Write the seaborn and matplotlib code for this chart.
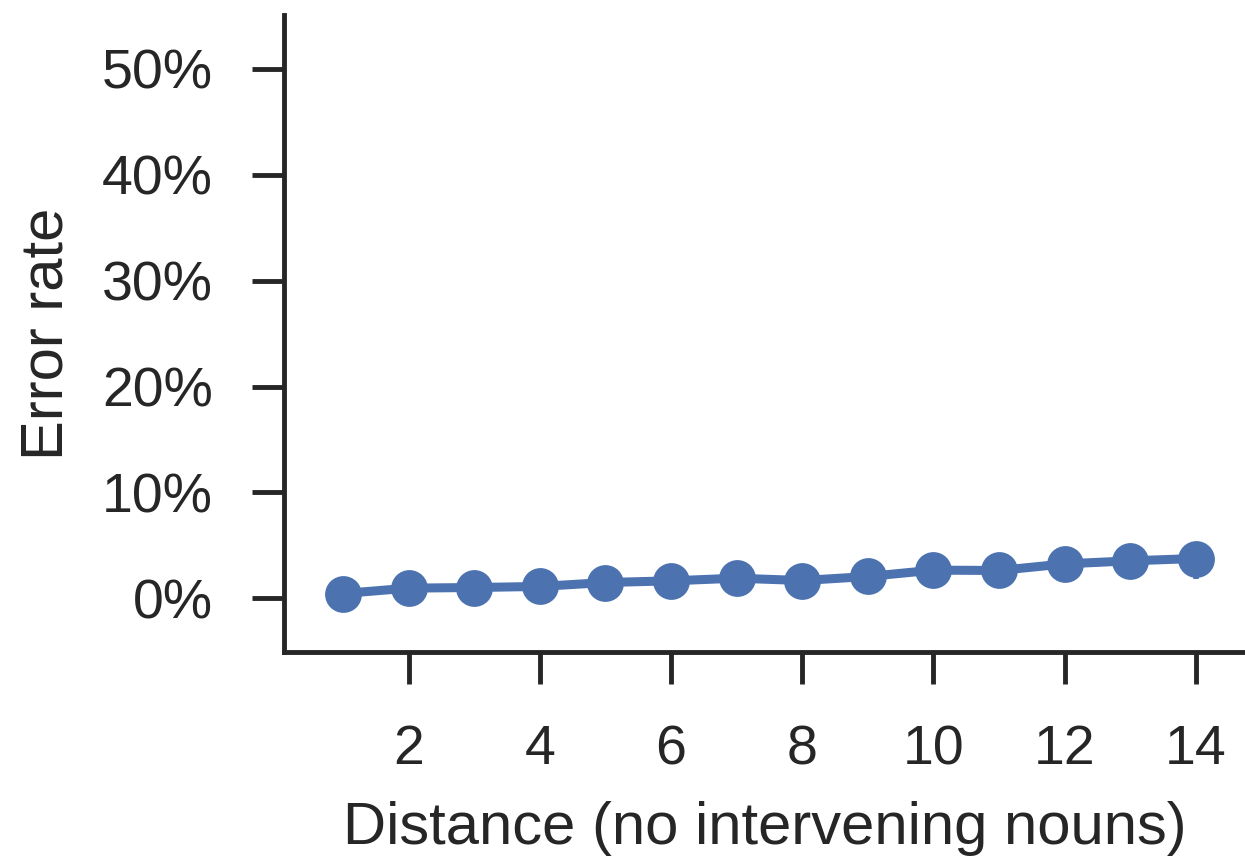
import matplotlib
matplotlib.use('Agg')
import matplotlib.pyplot as plt
import seaborn as sns
import pandas as pd
import numpy as np
from matplotlib.ticker import PercentFormatter

distance = [1, 2, 3, 4, 5, 6, 7, 8, 9, 10, 11, 12, 13, 14]
error_rate = [0.44, 0.95, 1.01, 1.11, 1.48, 1.64, 1.89, 1.67, 2.05, 2.65, 2.62, 3.24, 3.53, 3.75]
# only the last point shows a visible error bar
err_low = [0, 0, 0, 0, 0, 0, 0, 0, 0, 0, 0, 0, 0, 1.95]
err_high = [0, 0, 0, 0, 0, 0, 0, 0, 0, 0, 0, 0, 0, 1.4]

df = pd.DataFrame({'distance': distance, 'error': error_rate})

sns.set_theme(style='ticks')
plt.rcParams['font.family'] = ['Liberation Sans', 'DejaVu Sans']
plt.rcParams['text.color'] = '#262626'
plt.rcParams['axes.labelcolor'] = '#262626'

fig = plt.figure(figsize=(12.45, 8.57), dpi=100)
ax = fig.add_axes([0.228, 0.239, 0.772, 0.7435])

color = '#4C72B0'
ax.errorbar(distance, error_rate, yerr=[err_low, err_high], fmt='none',
            ecolor=color, elinewidth=4, capsize=0, zorder=1)
sns.lineplot(data=df, x='distance', y='error', ax=ax, color=color,
             marker='o', markersize=26.5, markeredgewidth=0, linewidth=6.5, zorder=2)

ax.set_xlim(0.1, 14.75)
ax.set_ylim(-5.1, 55.1)
ax.set_xticks([2, 4, 6, 8, 10, 12, 14])
ax.set_yticks([0, 10, 20, 30, 40, 50])
ax.yaxis.set_major_formatter(PercentFormatter(decimals=0))

ax.set_xlabel('Distance (no intervening nouns)', fontsize=43, labelpad=18)
ax.set_ylabel('Error rate', fontsize=43, labelpad=20)
ax.tick_params(axis='both', labelsize=40, length=23, width=3.5, color='#262626',
               labelcolor='#262626')
ax.tick_params(axis='x', pad=29)
ax.tick_params(axis='y', pad=28)
for s in ['left', 'bottom']:
    ax.spines[s].set_linewidth(3.5)
    ax.spines[s].set_color('#262626')
sns.despine(ax=ax)

fig.savefig('out.png', dpi=100)
